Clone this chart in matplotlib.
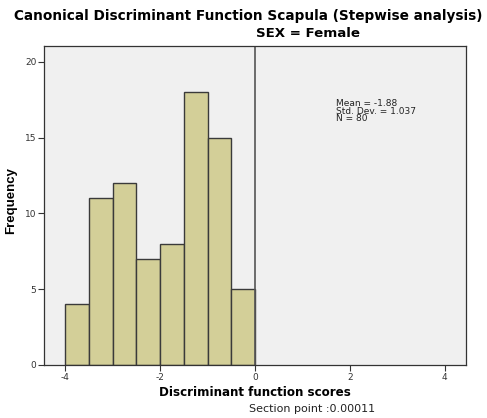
import numpy as np
import matplotlib
matplotlib.use("Agg")
import matplotlib.pyplot as plt

# histogram bins (width 0.5) and counts
bin_edges = [-4.0, -3.5, -3.0, -2.5, -2.0, -1.5, -1.0, -0.5, 0.0]
counts = [4, 11, 12, 7, 8, 18, 15, 5]
section_point = 0.00011
stats_lines = ["Mean = -1.88", "Std. Dev. = 1.037", "N = 80"]
x_ticks = [-4, -2, 0, 2, 4]
y_ticks = [0, 5, 10, 15, 20]

plt.rcParams['font.family'] = ['DejaVu Sans']

fig = plt.figure(figsize=(4.87, 4.18), dpi=100)
ax = fig.add_axes([0.0903, 0.1268, 0.8667, 0.7632])
ax.set_facecolor("#F0F0F0")

lefts = np.array(bin_edges[:-1])
widths = np.diff(bin_edges)
ax.bar(lefts, counts, width=widths, align="edge", color="#D3CF98",
       edgecolor="#3a3a3a", linewidth=1.0)

ax.axvline(section_point, color="#555555", linewidth=1.2)

ax.set_xlim(-4.45, 4.45)
ax.set_ylim(0, 21.05)
ax.set_xticks(x_ticks)
ax.set_xticklabels(["-4", "-2", "0", "2", "4"])
ax.set_yticks(y_ticks)
ax.tick_params(axis="both", labelsize=6.5, length=4, width=0.8,
               color="#333333", labelcolor="#333333", pad=1.5)
for s in ax.spines.values():
    s.set_color("#333333")
    s.set_linewidth(0.9)

ax.set_xlabel("Discriminant function scores", fontsize=8.6, fontweight="bold")
ax.xaxis.set_label_coords(0.5, -0.067)
ax.set_ylabel("Frequency", fontsize=9.5, fontweight="bold",
              family=["Liberation Sans Narrow", "Liberation Sans", "DejaVu Sans"])
ax.yaxis.set_label_coords(-0.064, 0.517)

ax.text(0.693, 0.834, "\n".join(stats_lines), transform=ax.transAxes,
        fontsize=6.5, color="#222222", va="top", ha="left", linespacing=0.8)

fig.text(0.509, 0.962, "Canonical Discriminant Function Scapula (Stepwise analysis)",
         ha="center", va="center", fontsize=9.8, fontweight="bold")
fig.text(0.632, 0.921, "SEX = Female", ha="center", va="center",
         fontsize=9.6, fontweight="bold")
fig.text(0.641, 0.022, "Section point :0.00011", ha="center", va="center",
         fontsize=8, color="#222222")

fig.savefig("out.png", dpi=100)
